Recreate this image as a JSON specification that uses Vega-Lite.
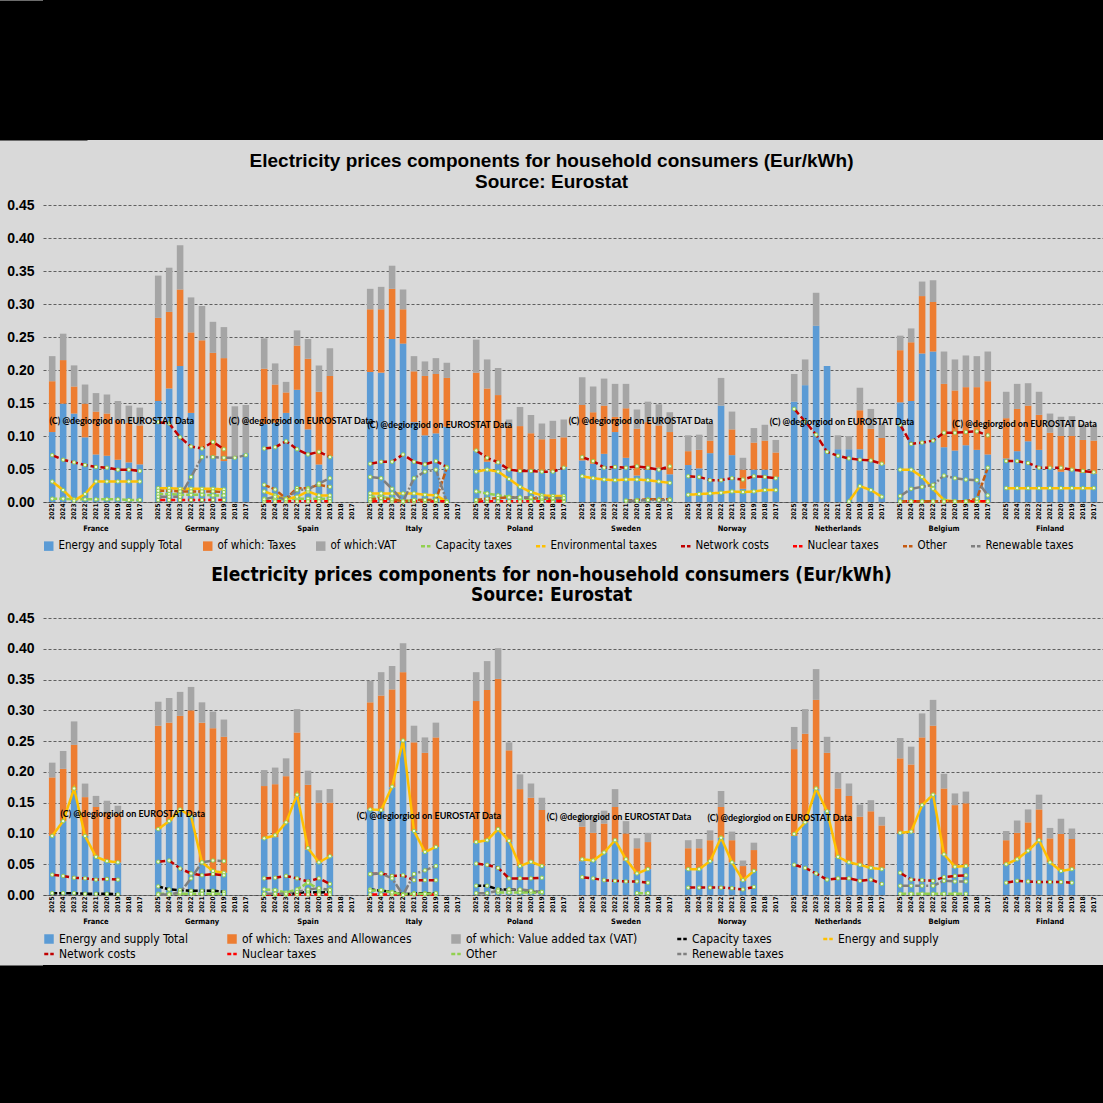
{
"$schema": "https://vega.github.io/schema/vega-lite/v6.json",
"background": "#d9d9d9",
"padding": 0,
"spacing": 12,
"resolve": {"scale": {"color": "independent", "strokeDash": "independent"}, "legend": {"color": "independent"}},
"datasets": {
"hh": [
{"c":"France","yr":"2025","e":0.106,"t":0.077,"v":0.038,"net":0.071,"env":0.031,"cap":0.005},
{"c":"France","yr":"2024","e":0.149,"t":0.066,"v":0.040,"net":0.064,"env":0.018,"cap":0.005},
{"c":"France","yr":"2023","e":0.134,"t":0.041,"v":0.032,"net":0.060,"env":0.002,"cap":0.004},
{"c":"France","yr":"2022","e":0.098,"t":0.051,"v":0.029,"net":0.056,"env":0.012,"cap":0.004},
{"c":"France","yr":"2021","e":0.072,"t":0.065,"v":0.028,"net":0.053,"env":0.031,"cap":0.004},
{"c":"France","yr":"2020","e":0.070,"t":0.064,"v":0.029,"net":0.052,"env":0.031,"cap":0.004},
{"c":"France","yr":"2019","e":0.064,"t":0.060,"v":0.029,"net":0.049,"env":0.031,"cap":0.004},
{"c":"France","yr":"2018","e":0.060,"t":0.060,"v":0.026,"net":0.049,"env":0.031,"cap":0.003},
{"c":"France","yr":"2017","e":0.057,"t":0.059,"v":0.027,"net":0.047,"env":0.031,"cap":0.003},
{"c":"Germany","yr":"2025","e":0.153,"t":0.126,"v":0.064,"net":0.121,"ren":0.008,"env":0.021,"oth":0.017,"cap":0.012,"nuc":0.003},
{"c":"Germany","yr":"2024","e":0.172,"t":0.116,"v":0.067,"net":0.119,"ren":0.008,"env":0.021,"oth":0.017,"cap":0.012,"nuc":0.003},
{"c":"Germany","yr":"2023","e":0.206,"t":0.116,"v":0.067,"net":0.098,"ren":0.008,"env":0.020,"oth":0.016,"cap":0.011,"nuc":0.003},
{"c":"Germany","yr":"2022","e":0.135,"t":0.122,"v":0.053,"net":0.084,"ren":0.038,"env":0.020,"oth":0.016,"cap":0.011,"nuc":0.003,"wm":"(C) @degiorgiod on EUROSTAT Data","wy":0.123},
{"c":"Germany","yr":"2021","e":0.082,"t":0.163,"v":0.052,"net":0.081,"ren":0.068,"env":0.020,"oth":0.016,"cap":0.011,"nuc":0.003},
{"c":"Germany","yr":"2020","e":0.070,"t":0.156,"v":0.047,"net":0.091,"ren":0.068,"env":0.020,"oth":0.016,"cap":0.010,"nuc":0.003},
{"c":"Germany","yr":"2019","e":0.062,"t":0.156,"v":0.047,"net":0.080,"ren":0.067,"env":0.019,"oth":0.015,"cap":0.010,"nuc":0.003},
{"c":"Germany","yr":"2018","e":0.067,"t":0,"v":0.078,"ren":0.067},
{"c":"Germany","yr":"2017","e":0.074,"v":0.073,"ren":0.071},
{"c":"Spain","yr":"2025","e":0.118,"t":0.084,"v":0.046,"net":0.081,"oth":0.026,"ren":0.004,"env":0.016,"cap":0.005,"nuc":0.001},
{"c":"Spain","yr":"2024","e":0.120,"t":0.058,"v":0.032,"net":0.083,"oth":0.019,"ren":0.008,"env":0.010,"cap":0.005,"nuc":0.001},
{"c":"Spain","yr":"2023","e":0.135,"t":0.031,"v":0.016,"net":0.092,"oth":0.005,"ren":0.004,"env":0.004,"cap":0.004,"nuc":0.001},
{"c":"Spain","yr":"2022","e":0.170,"t":0.067,"v":0.023,"net":0.080,"oth":0.021,"ren":0.018,"env":0.008,"cap":0.005,"nuc":0.001},
{"c":"Spain","yr":"2021","e":0.110,"t":0.107,"v":0.030,"net":0.072,"oth":0.021,"ren":0.019,"env":0.016,"cap":0.005,"nuc":0.001},
{"c":"Spain","yr":"2020","e":0.057,"t":0.110,"v":0.040,"net":0.076,"oth":0.026,"ren":0.028,"env":0.010,"cap":0.005,"nuc":0.001},
{"c":"Spain","yr":"2019","e":0.069,"t":0.122,"v":0.042,"net":0.068,"oth":0.023,"ren":0.036,"env":0.010,"cap":0.005,"nuc":0.001},
{"c":"Italy","yr":"2025","e":0.197,"t":0.095,"v":0.031,"net":0.058,"ren":0.038,"env":0.013,"oth":0.004,"cap":0.008,"nuc":0.001,"wm":"(C) @degiorgiod on EUROSTAT Data","wy":0.123},
{"c":"Italy","yr":"2024","e":0.196,"t":0.096,"v":0.034,"net":0.061,"ren":0.036,"env":0.013,"oth":0.006,"cap":0.008,"nuc":0.001},
{"c":"Italy","yr":"2023","e":0.247,"t":0.076,"v":0.035,"net":0.061,"ren":0.020,"env":0.013,"oth":0.004,"cap":0.005,"nuc":0.001},
{"c":"Italy","yr":"2022","e":0.240,"t":0.052,"v":0.030,"net":0.072,"ren":0.001,"env":0.013,"oth":0.001,"cap":0.001,"nuc":0.001},
{"c":"Italy","yr":"2021","e":0.121,"t":0.077,"v":0.023,"net":0.061,"ren":0.036,"env":0.013,"oth":0.003,"cap":0.003,"nuc":0.001},
{"c":"Italy","yr":"2020","e":0.101,"t":0.090,"v":0.022,"net":0.057,"ren":0.046,"env":0.011,"oth":0.003,"cap":0.003,"nuc":0.001},
{"c":"Italy","yr":"2019","e":0.104,"t":0.090,"v":0.024,"net":0.062,"ren":0.049,"env":0.010,"oth":0.003,"cap":0.003,"nuc":0.001},
{"c":"Italy","yr":"2018","e":0.114,"t":0.074,"v":0.023,"net":0.053,"ren":0.000,"env":0.001,"oth":0.052,"cap":0.001,"nuc":0.001},
{"c":"Poland","yr":"2025","e":0.078,"t":0.118,"v":0.050,"net":0.078,"env":0.046,"cap":0.016,"oth":0.003,"nuc":0.001},
{"c":"Poland","yr":"2024","e":0.061,"t":0.111,"v":0.044,"net":0.067,"env":0.049,"cap":0.013,"oth":0.005,"nuc":0.001},
{"c":"Poland","yr":"2023","e":0.058,"t":0.104,"v":0.041,"net":0.060,"env":0.046,"cap":0.010,"oth":0.006,"nuc":0.001},
{"c":"Poland","yr":"2022","e":0.049,"t":0.066,"v":0.010,"net":0.049,"env":0.035,"cap":0.008,"oth":0.007,"ren":0.007,"nuc":0.001,"wm":"(C) @degiorgiod on EUROSTAT Data","wy":0.117},
{"c":"Poland","yr":"2021","e":0.046,"t":0.069,"v":0.029,"net":0.047,"env":0.023,"cap":0.005,"oth":0.007,"ren":0.007,"nuc":0.001},
{"c":"Poland","yr":"2020","e":0.049,"t":0.055,"v":0.028,"net":0.047,"env":0.015,"cap":0.005,"oth":0.006,"ren":0.007,"nuc":0.001},
{"c":"Poland","yr":"2019","e":0.046,"t":0.049,"v":0.024,"net":0.046,"env":0.010,"cap":0.005,"oth":0.005,"ren":0.007,"nuc":0.001},
{"c":"Poland","yr":"2018","e":0.046,"t":0.050,"v":0.027,"net":0.046,"env":0.009,"cap":0.005,"oth":0.005,"ren":0.006,"nuc":0.001},
{"c":"Poland","yr":"2017","e":0.053,"t":0.045,"v":0.027,"net":0.052,"env":0.009,"cap":0.005,"oth":0.005,"ren":0.006,"nuc":0.001},
{"c":"Sweden","yr":"2025","e":0.063,"t":0.084,"v":0.042,"net":0.068,"env":0.039},
{"c":"Sweden","yr":"2024","e":0.058,"t":0.078,"v":0.039,"net":0.062,"env":0.036},
{"c":"Sweden","yr":"2023","e":0.073,"t":0.073,"v":0.041,"net":0.052,"env":0.034},
{"c":"Sweden","yr":"2022","e":0.106,"t":0.023,"v":0.050,"net":0.053,"env":0.033},
{"c":"Sweden","yr":"2021","e":0.067,"t":0.075,"v":0.037,"net":0.052,"env":0.034,"oth":0.002,"ren":0.002},
{"c":"Sweden","yr":"2020","e":0.040,"t":0.071,"v":0.029,"net":0.054,"env":0.034,"oth":0.003,"ren":0.002},
{"c":"Sweden","yr":"2019","e":0.049,"t":0.072,"v":0.031,"net":0.052,"env":0.033,"oth":0.004,"ren":0.003},
{"c":"Sweden","yr":"2018","e":0.052,"t":0.064,"v":0.032,"net":0.049,"env":0.031,"oth":0.004,"ren":0.003},
{"c":"Sweden","yr":"2017","e":0.042,"t":0.064,"v":0.030,"net":0.054,"env":0.029,"oth":0.004,"ren":0.003},
{"c":"Norway","yr":"2025","e":0.056,"t":0.021,"v":0.024,"net":0.039,"env":0.011},
{"c":"Norway","yr":"2024","e":0.051,"t":0.028,"v":0.023,"net":0.038,"env":0.012},
{"c":"Norway","yr":"2023","e":0.074,"t":0.019,"v":0.026,"net":0.033,"env":0.013,"wm":"(C) @degiorgiod on EUROSTAT Data","wy":0.123},
{"c":"Norway","yr":"2022","e":0.146,"t":0,"v":0.042,"net":0.033,"env":0.014},
{"c":"Norway","yr":"2021","e":0.071,"t":0.039,"v":0.027,"net":0.036,"env":0.016},
{"c":"Norway","yr":"2020","e":0.020,"t":0.029,"v":0.018,"net":0.034,"env":0.015},
{"c":"Norway","yr":"2019","e":0.049,"t":0.041,"v":0.022,"net":0.039,"env":0.016},
{"c":"Norway","yr":"2018","e":0.049,"t":0.044,"v":0.024,"net":0.038,"env":0.018},
{"c":"Norway","yr":"2017","e":0.038,"t":0.037,"v":0.019,"net":0.036,"env":0.018},
{"c":"Netherlands","yr":"2025","e":0.152,"v":0.042,"net":0.141},
{"c":"Netherlands","yr":"2024","e":0.177,"v":0.039,"net":0.122},
{"c":"Netherlands","yr":"2023","e":0.267,"v":0.050,"net":0.102},
{"c":"Netherlands","yr":"2022","e":0.206,"net":0.076},
{"c":"Netherlands","yr":"2021","e":0.080,"v":0.021,"net":0.070},
{"c":"Netherlands","yr":"2020","e":0.080,"v":0.020,"net":0.066,"env":0.001},
{"c":"Netherlands","yr":"2019","e":0.080,"t":0.059,"v":0.034,"net":0.064,"env":0.024},
{"c":"Netherlands","yr":"2018","e":0.063,"t":0.048,"v":0.030,"net":0.063,"env":0.018},
{"c":"Netherlands","yr":"2017","e":0.057,"t":0.040,"v":0.022,"net":0.058,"env":0.008},
{"c":"Belgium","yr":"2025","e":0.151,"t":0.079,"v":0.022,"net":0.117,"env":0.049,"ren":0.009,"oth":0.001,"nuc":0.001},
{"c":"Belgium","yr":"2024","e":0.153,"t":0.089,"v":0.021,"net":0.088,"env":0.049,"ren":0.020,"oth":0.001,"nuc":0.001,"wm":"(C) @degiorgiod on EUROSTAT Data","wy":0.121},
{"c":"Belgium","yr":"2023","e":0.225,"t":0.087,"v":0.022,"net":0.090,"env":0.038,"ren":0.023,"oth":0.001,"nuc":0.001},
{"c":"Belgium","yr":"2022","e":0.228,"t":0.075,"v":0.033,"net":0.093,"env":0.020,"ren":0.026,"oth":0.001,"nuc":0.001},
{"c":"Belgium","yr":"2021","e":0.083,"t":0.096,"v":0.049,"net":0.105,"env":0.003,"ren":0.040,"oth":0.001,"nuc":0.001},
{"c":"Belgium","yr":"2020","e":0.078,"t":0.091,"v":0.047,"net":0.105,"env":0.001,"ren":0.036,"oth":0.001,"nuc":0.001},
{"c":"Belgium","yr":"2019","e":0.086,"t":0.088,"v":0.048,"net":0.106,"env":0.001,"ren":0.034,"oth":0.001,"nuc":0.001},
{"c":"Belgium","yr":"2018","e":0.079,"t":0.095,"v":0.047,"net":0.107,"env":0.001,"ren":0.033,"oth":0.005,"nuc":0.001},
{"c":"Belgium","yr":"2017","e":0.072,"t":0.111,"v":0.045,"net":0.101,"env":0.001,"ren":0.010,"oth":0.052,"nuc":0.001},
{"c":"Finland","yr":"2025","e":0.066,"t":0.061,"v":0.040,"net":0.062,"env":0.021},
{"c":"Finland","yr":"2024","e":0.077,"t":0.064,"v":0.038,"net":0.062,"env":0.021},
{"c":"Finland","yr":"2023","e":0.092,"t":0.054,"v":0.034,"net":0.059,"env":0.021},
{"c":"Finland","yr":"2022","e":0.079,"t":0.053,"v":0.035,"net":0.052,"env":0.021},
{"c":"Finland","yr":"2021","e":0.052,"t":0.053,"v":0.029,"net":0.052,"env":0.021},
{"c":"Finland","yr":"2020","e":0.046,"t":0.054,"v":0.029,"net":0.052,"env":0.021},
{"c":"Finland","yr":"2019","e":0.049,"t":0.051,"v":0.030,"net":0.049,"env":0.021},
{"c":"Finland","yr":"2018","e":0.044,"t":0.050,"v":0.024,"net":0.047,"env":0.021},
{"c":"Finland","yr":"2017","e":0.043,"t":0.050,"v":0.024,"net":0.045,"env":0.021,"wm":"(C) @degiorgiod on EUROSTAT Data","wy":0.118}
],
"nh": [
{"c":"France","yr":"2025","e":0.096,"t":0.095,"v":0.024,"es":0.096,"net":0.033,"cap":0.003},
{"c":"France","yr":"2024","e":0.120,"t":0.085,"v":0.029,"es":0.120,"net":0.031,"cap":0.003},
{"c":"France","yr":"2023","e":0.170,"t":0.074,"v":0.038,"es":0.173,"net":0.028,"cap":0.003},
{"c":"France","yr":"2022","e":0.096,"t":0.063,"v":0.022,"es":0.096,"net":0.027,"cap":0.002},
{"c":"France","yr":"2021","e":0.063,"t":0.080,"v":0.018,"es":0.062,"net":0.025,"cap":0.002},
{"c":"France","yr":"2020","e":0.055,"t":0.079,"v":0.019,"es":0.055,"net":0.026,"cap":0.002},
{"c":"France","yr":"2019","e":0.053,"t":0.079,"v":0.013,"es":0.053,"net":0.025,"cap":0.001},
{"c":"Germany","yr":"2025","e":0.107,"t":0.168,"v":0.039,"es":0.107,"net":0.054,"ren":0.001,"cap":0.014,"oth":0.002},
{"c":"Germany","yr":"2024","e":0.120,"t":0.160,"v":0.040,"es":0.120,"net":0.056,"ren":0.001,"cap":0.009,"oth":0.002},
{"c":"Germany","yr":"2023","e":0.138,"t":0.153,"v":0.039,"es":0.139,"net":0.043,"ren":0.004,"cap":0.008,"oth":0.002},
{"c":"Germany","yr":"2022","e":0.128,"t":0.172,"v":0.038,"es":0.128,"net":0.035,"ren":0.027,"cap":0.007,"oth":0.002},
{"c":"Germany","yr":"2021","e":0.053,"t":0.227,"v":0.033,"es":0.053,"net":0.032,"ren":0.053,"cap":0.007,"oth":0.002,"wm":"(C) @degiorgiod on EUROSTAT Data","wy":0.132},
{"c":"Germany","yr":"2020","e":0.039,"t":0.232,"v":0.027,"es":0.039,"net":0.034,"ren":0.056,"cap":0.007,"oth":0.002},
{"c":"Germany","yr":"2019","e":0.036,"t":0.221,"v":0.028,"es":0.036,"net":0.032,"ren":0.055,"cap":0.005,"oth":0.002},
{"c":"Spain","yr":"2025","e":0.091,"t":0.086,"v":0.026,"es":0.092,"net":0.027,"oth":0.009,"ren":0.002,"cap":0.001,"nuc":0.001},
{"c":"Spain","yr":"2024","e":0.094,"t":0.086,"v":0.027,"es":0.097,"net":0.028,"oth":0.008,"ren":0.002,"cap":0.001,"nuc":0.001},
{"c":"Spain","yr":"2023","e":0.118,"t":0.075,"v":0.029,"es":0.118,"net":0.031,"oth":0.004,"ren":0.002,"cap":0.001,"nuc":0.001},
{"c":"Spain","yr":"2022","e":0.160,"t":0.104,"v":0.038,"es":0.163,"net":0.027,"oth":0.009,"ren":0.005,"cap":0.003,"nuc":0.001},
{"c":"Spain","yr":"2021","e":0.074,"t":0.105,"v":0.023,"es":0.076,"net":0.022,"oth":0.020,"ren":0.009,"cap":0.005,"nuc":0.001},
{"c":"Spain","yr":"2020","e":0.053,"t":0.097,"v":0.020,"es":0.053,"net":0.027,"oth":0.009,"ren":0.011,"cap":0.004,"nuc":0.001},
{"c":"Spain","yr":"2019","e":0.063,"t":0.087,"v":0.022,"es":0.063,"net":0.018,"oth":0.009,"ren":0.008,"cap":0.005,"nuc":0.001},
{"c":"Italy","yr":"2025","e":0.139,"t":0.174,"v":0.035,"es":0.139,"net":0.034,"ren":0.034,"cap":0.009,"oth":0.007,"nuc":0.001},
{"c":"Italy","yr":"2024","e":0.137,"t":0.187,"v":0.038,"es":0.138,"net":0.035,"ren":0.035,"cap":0.007,"oth":0.008,"nuc":0.001},
{"c":"Italy","yr":"2023","e":0.175,"t":0.159,"v":0.038,"es":0.176,"net":0.031,"ren":0.027,"cap":0.005,"oth":0.004,"nuc":0.001},
{"c":"Italy","yr":"2022","e":0.250,"t":0.112,"v":0.047,"es":0.251,"net":0.032,"ren":0.000,"cap":0.001,"oth":0.001,"nuc":0.001},
{"c":"Italy","yr":"2021","e":0.104,"t":0.144,"v":0.027,"es":0.104,"net":0.024,"ren":0.034,"cap":0.003,"oth":0.002,"nuc":0.001},
{"c":"Italy","yr":"2020","e":0.070,"t":0.161,"v":0.025,"es":0.070,"net":0.024,"ren":0.040,"cap":0.003,"oth":0.002,"nuc":0.001},
{"c":"Italy","yr":"2019","e":0.078,"t":0.178,"v":0.024,"es":0.078,"net":0.024,"ren":0.047,"cap":0.003,"oth":0.003,"nuc":0.001},
{"c":"Poland","yr":"2025","e":0.085,"t":0.230,"v":0.047,"es":0.086,"net":0.051,"cap":0.015,"ren":0.003},
{"c":"Poland","yr":"2024","e":0.091,"t":0.242,"v":0.047,"es":0.089,"net":0.049,"cap":0.015,"ren":0.003},
{"c":"Poland","yr":"2023","e":0.105,"t":0.246,"v":0.050,"es":0.107,"net":0.044,"cap":0.009,"ren":0.007,"oth":0.004,"wm":"(C) @degiorgiod on EUROSTAT Data","wy":0.128},
{"c":"Poland","yr":"2022","e":0.086,"t":0.149,"v":0.013,"es":0.088,"net":0.027,"cap":0.009,"ren":0.009,"oth":0.004},
{"c":"Poland","yr":"2021","e":0.047,"t":0.125,"v":0.024,"es":0.047,"net":0.027,"cap":0.008,"ren":0.009,"oth":0.004},
{"c":"Poland","yr":"2020","e":0.053,"t":0.105,"v":0.023,"es":0.054,"net":0.027,"cap":0.005,"ren":0.007,"oth":0.004},
{"c":"Poland","yr":"2019","e":0.047,"t":0.091,"v":0.020,"es":0.047,"net":0.028,"cap":0.005,"ren":0.005,"oth":0.004},
{"c":"Sweden","yr":"2025","e":0.055,"t":0.056,"v":0.020,"es":0.058,"net":0.029},
{"c":"Sweden","yr":"2024","e":0.056,"t":0.045,"v":0.026,"es":0.056,"net":0.027},
{"c":"Sweden","yr":"2023","e":0.069,"t":0.047,"v":0.021,"es":0.069,"net":0.024},
{"c":"Sweden","yr":"2022","e":0.088,"t":0.055,"v":0.029,"es":0.089,"net":0.023},
{"c":"Sweden","yr":"2021","e":0.056,"t":0.044,"v":0.020,"es":0.058,"net":0.022},
{"c":"Sweden","yr":"2020","e":0.034,"t":0.042,"v":0.016,"es":0.035,"net":0.022,"oth":0.003},
{"c":"Sweden","yr":"2019","e":0.042,"t":0.044,"v":0.015,"es":0.042,"net":0.020,"oth":0.003},
{"c":"Norway","yr":"2025","e":0.042,"t":0.034,"v":0.013,"es":0.042,"net":0.012,"wm":"(C) @degiorgiod on EUROSTAT Data","wy":0.127},
{"c":"Norway","yr":"2024","e":0.042,"t":0.034,"v":0.015,"es":0.042,"net":0.012},
{"c":"Norway","yr":"2023","e":0.055,"t":0.034,"v":0.016,"es":0.055,"net":0.012},
{"c":"Norway","yr":"2022","e":0.093,"t":0.050,"v":0.026,"es":0.093,"net":0.012},
{"c":"Norway","yr":"2021","e":0.053,"t":0.036,"v":0.014,"es":0.053,"net":0.011},
{"c":"Norway","yr":"2020","e":0.023,"t":0.024,"v":0.009,"es":0.024,"net":0.009},
{"c":"Norway","yr":"2019","e":0.039,"t":0.034,"v":0.012,"es":0.039,"net":0.013},
{"c":"Netherlands","yr":"2025","e":0.096,"t":0.141,"v":0.036,"es":0.099,"net":0.049},
{"c":"Netherlands","yr":"2024","e":0.118,"t":0.144,"v":0.040,"es":0.118,"net":0.044},
{"c":"Netherlands","yr":"2023","e":0.172,"t":0.145,"v":0.050,"es":0.173,"net":0.035},
{"c":"Netherlands","yr":"2022","e":0.137,"t":0.094,"v":0.026,"es":0.136,"net":0.025},
{"c":"Netherlands","yr":"2021","e":0.061,"t":0.112,"v":0.026,"es":0.062,"net":0.027},
{"c":"Netherlands","yr":"2020","e":0.053,"t":0.108,"v":0.020,"es":0.053,"net":0.027,"wm":"(C) @degiorgiod on EUROSTAT Data","wy":0.125},
{"c":"Netherlands","yr":"2019","e":0.050,"t":0.077,"v":0.020,"es":0.049,"net":0.023},
{"c":"Netherlands","yr":"2018","e":0.046,"t":0.090,"v":0.018,"es":0.044,"net":0.025},
{"c":"Netherlands","yr":"2017","e":0.043,"t":0.070,"v":0.014,"es":0.042,"net":0.018},
{"c":"Belgium","yr":"2025","e":0.100,"t":0.122,"v":0.033,"es":0.101,"net":0.036,"ren":0.015,"oth":0.002},
{"c":"Belgium","yr":"2024","e":0.101,"t":0.111,"v":0.029,"es":0.103,"net":0.025,"ren":0.015,"oth":0.002},
{"c":"Belgium","yr":"2023","e":0.146,"t":0.110,"v":0.039,"es":0.146,"net":0.024,"ren":0.015,"oth":0.002},
{"c":"Belgium","yr":"2022","e":0.163,"t":0.112,"v":0.042,"es":0.163,"net":0.023,"ren":0.015,"oth":0.002},
{"c":"Belgium","yr":"2021","e":0.066,"t":0.107,"v":0.024,"es":0.066,"net":0.029,"ren":0.023,"oth":0.002},
{"c":"Belgium","yr":"2020","e":0.044,"t":0.102,"v":0.019,"es":0.046,"net":0.031,"ren":0.022,"oth":0.002},
{"c":"Belgium","yr":"2019","e":0.046,"t":0.103,"v":0.019,"es":0.047,"net":0.032,"ren":0.022,"oth":0.002},
{"c":"Finland","yr":"2025","e":0.050,"t":0.039,"v":0.015,"es":0.050,"net":0.020},
{"c":"Finland","yr":"2024","e":0.058,"t":0.043,"v":0.020,"es":0.058,"net":0.023},
{"c":"Finland","yr":"2023","e":0.072,"t":0.046,"v":0.021,"es":0.072,"net":0.022},
{"c":"Finland","yr":"2022","e":0.089,"t":0.050,"v":0.024,"es":0.089,"net":0.021},
{"c":"Finland","yr":"2021","e":0.053,"t":0.039,"v":0.017,"es":0.053,"net":0.021},
{"c":"Finland","yr":"2020","e":0.039,"t":0.060,"v":0.025,"es":0.039,"net":0.021},
{"c":"Finland","yr":"2019","e":0.042,"t":0.049,"v":0.017,"es":0.042,"net":0.020}
]
},
"vconcat": [
{"width": 1060, "height": 140, "data": {"values": [{"z": 0}]}, "mark": {"type": "point", "opacity": 0}, "view": {"fill": "#000000", "stroke": null},
 "encoding": {"y": {"field": "z", "type": "quantitative", "title": null, "axis": {"domain": true, "domainColor": "#000000", "domainWidth": 88, "domainCap": "butt", "labels": false, "ticks": false, "grid": false, "minExtent": 43, "maxExtent": 43}}}},
{
"spacing": 5,
"resolve": {"scale": {"color": "independent", "strokeDash": "independent"}, "legend": {"color": "independent"}},
"vconcat": [
{
"spacing": 14,
"resolve": {"scale": {"color": "independent", "strokeDash": "independent"}, "legend": {"color": "independent"}},
"vconcat": [
{
"data": {"name": "hh"},
"bounds": "flush",
"title": {"text": ["Electricity prices components for household consumers (Eur/kWh)", "Source: Eurostat"], "font": "Liberation Sans", "fontSize": 19, "fontWeight": "bold", "color": "#000000", "anchor": "middle", "dx": 0, "offset": 6, "lineHeight": 21},
"facet": {"column": {"field": "c", "type": "nominal", "sort": ["France","Germany","Spain","Italy","Poland","Sweden","Norway","Netherlands","Belgium","Finland"], "header": {"title": null, "labelOrient": "bottom", "labelFont": "Liberation Sans Narrow, DejaVu Sans Condensed, Liberation Sans, sans-serif", "labelFontSize": 7.5, "labelFontWeight": "bold", "labelColor": "#000000", "labelPadding": 6}}},
"spacing": 0,
"spec": {
"width": 106, "height": 297,
"encoding": {"x": {"field": "yr", "type": "ordinal", "title": null, "scale": {"domain": ["2025","2024","2023","2022","2021","2020","2019","2018","2017"], "paddingInner": 0.4, "paddingOuter": 0.54}}},
"layer": [
{"transform": [{"fold": ["e","t","v"], "as": ["k","val"]}, {"filter": "datum.val != null"}],
 "mark": {"type": "bar"},
 "encoding": {
  "y": {"field": "val", "type": "quantitative", "stack": "zero", "title": null, "scale": {"domain": [0, 0.45], "nice": false}},
  "order": {"field": "k", "sort": "ascending"},
  "color": {"field": "k", "type": "nominal", "scale": {"domain": ["e","t","v","cap","env","net","nuc","oth","ren"], "range": ["#5b9bd5","#ed7d31","#a5a5a5","#92d050","#ffc000","#c00000","#ff0000","#c55a11","#7f7f7f"]},
   "legend": {"title": null, "orient": "bottom", "direction": "horizontal", "columns": 9, "labelFont": "Liberation Sans Narrow, DejaVu Sans Condensed, Liberation Sans, sans-serif", "labelFontSize": 11.5, "labelLimit": 400, "labelColor": "#000000", "symbolSize": 90, "columnPadding": 19, "offset": 7, "padding": 0,
    "labelExpr": "['Energy and supply Total','of which: Taxes','of which:VAT','Capacity taxes','Environmental taxes','Network costs','Nuclear taxes','Other','Renewable taxes'][indexof(['e','t','v','cap','env','net','nuc','oth','ren'], datum.value)]",
    "encode": {"symbols": {"update": {
     "shape": {"signal": "indexof(['e','t','v'], datum.value) >= 0 ? 'square' : 'stroke'"},
     "fill": {"signal": "['#5b9bd5','#ed7d31','#a5a5a5','#92d050','#ffc000','#c00000','#ff0000','#c55a11','#7f7f7f'][indexof(['e','t','v','cap','env','net','nuc','oth','ren'], datum.value)]"},
     "stroke": {"signal": "['#5b9bd5','#ed7d31','#a5a5a5','#92d050','#ffc000','#c00000','#ff0000','#c55a11','#7f7f7f'][indexof(['e','t','v','cap','env','net','nuc','oth','ren'], datum.value)]"},
     "strokeWidth": {"signal": "indexof(['e','t','v'], datum.value) >= 0 ? 0 : 2.5"},
     "strokeDash": {"signal": "indexof(['e','t','v'], datum.value) >= 0 ? [1,0] : [4,2]"},
     "opacity": {"value": 1}
    }}}}
  }
 }},
{"transform": [{"fold": ["cap","env","net","nuc","oth","ren"], "as": ["k","val"]}, {"filter": "datum.val != null"}],
 "mark": {"type": "line", "strokeWidth": 2.5},
 "encoding": {
  "y": {"field": "val", "type": "quantitative", "title": null},
  "color": {"field": "k", "type": "nominal"},
  "strokeDash": {"field": "k", "type": "nominal", "legend": null, "scale": {"domain": ["cap","env","net","nuc","oth","ren"], "range": [[5,2],[1,0],[7,3],[7,3],[6,2],[9,2,2,2]]}}
 }},
{"transform": [{"fold": ["cap","env","net","nuc","oth","ren"], "as": ["k","val"]}, {"filter": "datum.val != null"}],
 "mark": {"type": "point", "filled": true, "size": 12, "fill": "#eef7e0", "stroke": "#92d050", "strokeWidth": 1, "opacity": 1},
 "encoding": {"y": {"field": "val", "type": "quantitative", "title": null}, "detail": {"field": "k"}}},
{"transform": [{"filter": "datum.wm != null"}],
 "mark": {"type": "text", "align": "right", "baseline": "middle", "dx": 3, "font": "Lato", "fontWeight": "bold", "fontSize": 9, "color": "#000000"},
 "encoding": {"y": {"field": "wy", "type": "quantitative", "title": null}, "text": {"field": "wm"}}}
]
}
},
{
"data": {"name": "nh"},
"bounds": "flush",
"title": {"text": ["Electricity prices components for non-household consumers (Eur/kWh)", "Source: Eurostat"], "font": "Liberation Sans Narrow, DejaVu Sans Condensed, Liberation Sans, sans-serif", "fontSize": 19, "fontWeight": "bold", "color": "#000000", "anchor": "middle", "dx": 0, "offset": 6, "lineHeight": 20},
"facet": {"column": {"field": "c", "type": "nominal", "sort": ["France","Germany","Spain","Italy","Poland","Sweden","Norway","Netherlands","Belgium","Finland"], "header": {"title": null, "labelOrient": "bottom", "labelFont": "Liberation Sans Narrow, DejaVu Sans Condensed, Liberation Sans, sans-serif", "labelFontSize": 7.5, "labelFontWeight": "bold", "labelColor": "#000000", "labelPadding": 6}}},
"spacing": 0,
"spec": {
"width": 106, "height": 277,
"encoding": {"x": {"field": "yr", "type": "ordinal", "title": null, "scale": {"domain": ["2025","2024","2023","2022","2021","2020","2019","2018","2017"], "paddingInner": 0.4, "paddingOuter": 0.54}}},
"layer": [
{"transform": [{"fold": ["e","t","v"], "as": ["k","val"]}, {"filter": "datum.val != null"}],
 "mark": {"type": "bar"},
 "encoding": {
  "y": {"field": "val", "type": "quantitative", "stack": "zero", "title": null, "scale": {"domain": [0, 0.45], "nice": false}},
  "order": {"field": "k", "sort": "ascending"},
  "color": {"field": "k", "type": "nominal", "scale": {"domain": ["e","t","v","cap","es","net","nuc","oth","ren"], "range": ["#5b9bd5","#ed7d31","#a5a5a5","#000000","#ffc000","#c00000","#ff0000","#92d050","#7f7f7f"]},
   "legend": {"title": null, "orient": "bottom", "direction": "horizontal", "columns": 5, "labelFont": "Liberation Sans Narrow, DejaVu Sans Condensed, Liberation Sans, sans-serif", "labelFontSize": 12, "labelLimit": 400, "labelColor": "#000000", "symbolSize": 90, "columnPadding": 34, "rowPadding": 3, "offset": 7, "padding": 0, "gridAlign": "each",
    "labelExpr": "['Energy and supply Total','of which: Taxes and Allowances','of which: Value added tax (VAT)','Capacity taxes','Energy and supply','Network costs','Nuclear taxes','Other','Renewable taxes'][indexof(['e','t','v','cap','es','net','nuc','oth','ren'], datum.value)]",
    "encode": {"symbols": {"update": {
     "shape": {"signal": "indexof(['e','t','v'], datum.value) >= 0 ? 'square' : 'stroke'"},
     "fill": {"signal": "['#5b9bd5','#ed7d31','#a5a5a5','#000000','#ffc000','#c00000','#ff0000','#92d050','#7f7f7f'][indexof(['e','t','v','cap','es','net','nuc','oth','ren'], datum.value)]"},
     "stroke": {"signal": "['#5b9bd5','#ed7d31','#a5a5a5','#000000','#ffc000','#c00000','#ff0000','#92d050','#7f7f7f'][indexof(['e','t','v','cap','es','net','nuc','oth','ren'], datum.value)]"},
     "strokeWidth": {"signal": "indexof(['e','t','v'], datum.value) >= 0 ? 0 : 2.5"},
     "strokeDash": {"signal": "indexof(['e','t','v'], datum.value) >= 0 ? [1,0] : [4,2]"},
     "opacity": {"value": 1}
    }}}}
  }
 }},
{"transform": [{"fold": ["cap","es","net","nuc","oth","ren"], "as": ["k","val"]}, {"filter": "datum.val != null"}],
 "mark": {"type": "line", "strokeWidth": 2.5},
 "encoding": {
  "y": {"field": "val", "type": "quantitative", "title": null},
  "color": {"field": "k", "type": "nominal"},
  "strokeDash": {"field": "k", "type": "nominal", "legend": null, "scale": {"domain": ["cap","es","net","nuc","oth","ren"], "range": [[5,2],[1,0],[7,3],[7,3],[6,2],[9,2,2,2]]}}
 }},
{"transform": [{"fold": ["cap","es","net","nuc","oth","ren"], "as": ["k","val"]}, {"filter": "datum.val != null"}],
 "mark": {"type": "point", "filled": true, "size": 12, "fill": "#eef7e0", "stroke": "#92d050", "strokeWidth": 1, "opacity": 1},
 "encoding": {"y": {"field": "val", "type": "quantitative", "title": null}, "detail": {"field": "k"}}},
{"transform": [{"filter": "datum.wm != null"}],
 "mark": {"type": "text", "align": "right", "baseline": "middle", "dx": 3, "font": "Lato", "fontWeight": "bold", "fontSize": 9, "color": "#000000"},
 "encoding": {"y": {"field": "wy", "type": "quantitative", "title": null}, "text": {"field": "wm"}}}
]
}
}
]
},
{"width": 1060, "height": 138, "data": {"values": [{"z": 0}]}, "mark": {"type": "point", "opacity": 0}, "view": {"fill": "#000000", "stroke": null},
 "encoding": {"y": {"field": "z", "type": "quantitative", "title": null, "axis": {"domain": true, "domainColor": "#000000", "domainWidth": 88, "domainCap": "butt", "labels": false, "ticks": false, "grid": false, "minExtent": 43, "maxExtent": 43}}}}
]
}
],
"config": {
"view": {"stroke": null},
"font": "Liberation Sans",
"axisY": {"values": [0,0.05,0.1,0.15,0.2,0.25,0.3,0.35,0.4,0.45], "format": ".2f", "labelFont": "Liberation Sans", "labelFontSize": 14, "labelFontWeight": "bold", "labelColor": "#000000", "labelPadding": 9, "minExtent": 43, "maxExtent": 43, "domain": false, "ticks": false, "grid": true, "gridDash": [3,2], "gridColor": "#404040", "gridWidth": 0.8},
"axisX": {"labelAngle": -90, "labelFont": "Liberation Sans Narrow, DejaVu Sans Condensed, Liberation Sans, sans-serif", "labelFontSize": 6.5, "labelFontWeight": "bold", "labelColor": "#000000", "ticks": false, "domainColor": "#808080", "labelPadding": 1, "grid": false}
}
}
